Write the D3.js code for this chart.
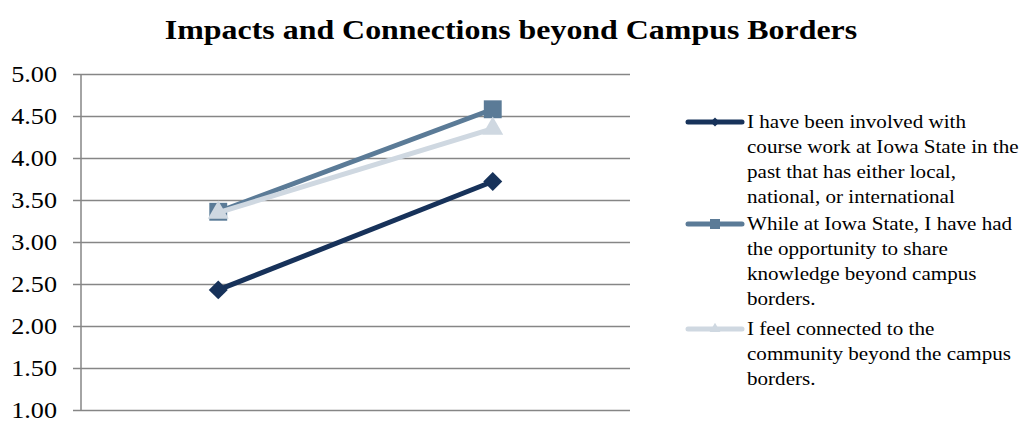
<!DOCTYPE html>
<html>
<head>
<meta charset="utf-8">
<script src="https://cdn.jsdelivr.net/npm/d3@7"></script>
<style>
  body { margin: 0; background: #fff; }
  text { font-family: "Liberation Serif", "Times New Roman", serif; }
</style>
</head>
<body>
<svg id="chart" width="1026" height="421"></svg>
<script>
// data
const categories = ["Before", "After"];
const seriesNames = [
  "I have been involved with course work at Iowa State in the past that has either local, national, or international",
  "While at Iowa State, I have had the opportunity to share knowledge beyond campus borders.",
  "I feel connected to the community beyond the campus borders."
];
const legendLines = [
  ["I have been involved with", "course work at Iowa State in the", "past that has either local,", "national, or international"],
  ["While at Iowa State, I have had", "the opportunity to share", "knowledge beyond campus", "borders."],
  ["I feel connected to the", "community beyond the campus", "borders."]
];
const series1 = [2.43, 3.72];
const series2 = [3.36, 4.58];
const series3 = [3.35, 4.35];
const yTicks = [1, 1.5, 2, 2.5, 3, 3.5, 4, 4.5, 5];

const colors = ["#17325a", "#5b7b97", "#cfd8e1"];
// diamond = square turned 45deg
const symbols = [d3.symbolSquare, d3.symbolSquare, d3.symbolTriangle];
const rotate = [45, 0, 0];
const symSize = [180, 320, 190];
const legSize = [40, 100, 50];
const stretch = 1.14; // the reference type is a bit wider than Liberation Serif

const svg = d3.select("#chart");

// scales
const x = d3.scaleBand().domain(categories).range([81, 630]);
const y = d3.scaleLinear().domain([1, 5]).range([410, 74]);

// title
svg.append("text")
   .attr("transform", `translate(511,39) scale(${stretch},1)`)
   .attr("text-anchor", "middle")
   .style("font-size", "28px")
   .style("font-weight", "bold")
   .text("Impacts and Connections beyond Campus Borders");

// gridlines + y axis
const yAxis = d3.axisLeft(y)
                .tickValues(yTicks)
                .tickFormat(d3.format(".2f"))
                .tickSize(-(630 - 73))
                .tickPadding(14);

const gy = svg.append("g")
   .attr("transform", "translate(73,0)")
   .call(yAxis);
gy.select(".domain").remove();
gy.selectAll(".tick line").attr("stroke", "#868686").attr("stroke-width", 1.5);
gy.selectAll(".tick text")
  .style("font-size", "23px")
  .attr("fill", "#000")
  .attr("transform", `scale(${stretch},1)`)
  .style("font-family", "'Liberation Serif', serif");

// vertical axis line
svg.append("line")
   .attr("x1", 81).attr("x2", 81)
   .attr("y1", y(5)).attr("y2", y(1))
   .attr("stroke", "#868686").attr("stroke-width", 1.5);

// lines
const allSeries = [series1, series2, series3];
const line = d3.line()
               .x((d, i) => x(categories[i]) + x.bandwidth() / 2)
               .y(d => y(d));

allSeries.forEach(function(s, k) {
  svg.append("path")
     .datum(s)
     .attr("d", line)
     .attr("fill", "none")
     .attr("stroke", colors[k])
     .attr("stroke-width", 5);

  svg.selectAll(".m" + k)
     .data(s)
     .enter()
     .append("path")
     .attr("class", "m" + k)
     .attr("d", d3.symbol().type(symbols[k]).size(symSize[k]))
     .attr("transform", (d, i) => `translate(${x(categories[i]) + x.bandwidth() / 2},${y(d)}) rotate(${rotate[k]})`)
     .attr("fill", colors[k]);
});

// legend
const legendTop = [122, 224, 329];
const legend = svg.selectAll(".legend")
   .data(legendLines)
   .enter()
   .append("g")
   .attr("class", "legend")
   .attr("transform", (d, i) => `translate(688,${legendTop[i]})`);

legend.append("line")
      .attr("x1", 0).attr("x2", 54)
      .attr("y1", 0).attr("y2", 0)
      .attr("stroke", (d, i) => colors[i])
      .attr("stroke-width", 5)
      .attr("stroke-linecap", "round");

legend.append("path")
      .attr("d", (d, i) => d3.symbol().type(symbols[i]).size(legSize[i])())
      .attr("transform", (d, i) => `translate(27,0) rotate(${rotate[i]})`)
      .attr("fill", (d, i) => colors[i]);

legend.each(function(lines) {
  const t = d3.select(this).append("text")
     .attr("transform", `translate(59,0) scale(${stretch},1)`)
     .style("font-size", "18.5px")
     .attr("fill", "#000");
  t.selectAll("tspan")
   .data(lines)
   .enter()
   .append("tspan")
   .attr("x", 0)
   .attr("y", (d, j) => j * 25)
   .attr("dy", "0.35em")
   .text(d => d);
});
</script>
</body>
</html>
